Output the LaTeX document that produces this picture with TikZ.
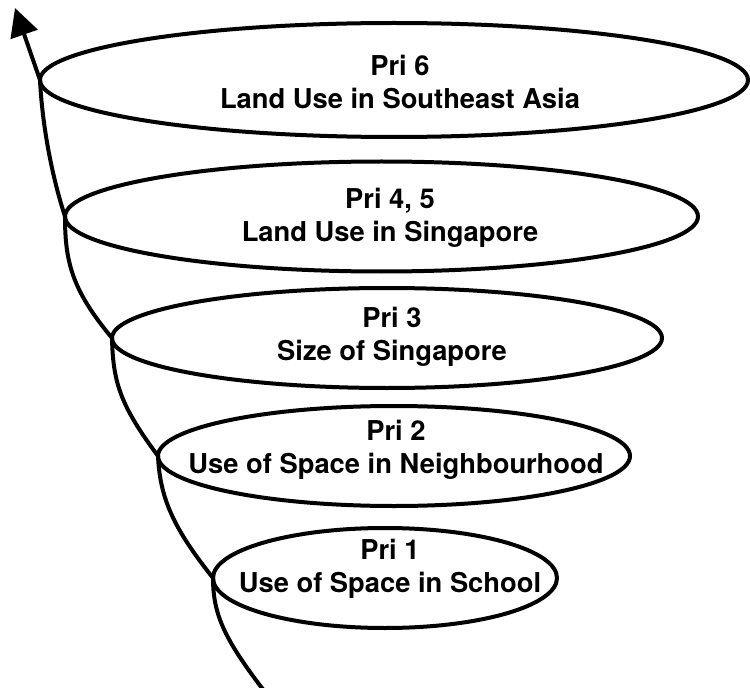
\documentclass[tikz,border=0pt]{standalone}
\usepackage{fontspec}
\setmainfont{TeX Gyre Heros}
\usetikzlibrary{arrows.meta,shapes.geometric}
\begin{document}
\begin{tikzpicture}[x=0.75pt,y=-0.75pt,
  ell/.style={draw, line width=3pt, ellipse, inner sep=0pt, outer sep=0pt},
  lbl/.style={align=center, font=\fontsize{20.5}{24.75}\selectfont\bfseries, inner sep=0pt},
  spiral/.style={line width=3pt, line join=round, -{Triangle[length=21pt,width=21pt]}}]
\useasboundingbox (0,0) rectangle (750,688);
\node[ell, minimum width=531pt, minimum height=85.5pt] (e6) at (394,80) {};
\node[ell, minimum width=474.75pt, minimum height=82.5pt] (e45) at (381.5,216.5) {};
\node[ell, minimum width=412.5pt, minimum height=75pt] (e3) at (387,338) {};
\node[ell, minimum width=354pt, minimum height=75pt] (e2) at (394,456) {};
\node[ell, minimum width=258pt, minimum height=75pt] (e1) at (385,578) {};
\node[lbl] (t6) at (400,82) {Pri 6\\Land Use in Southeast Asia};
\node[lbl] (t45) at (390,218) {Pri 4, 5\\Land Use in Singapore};
\node[lbl] (t3) at (392,337) {Pri 3\\Size of Singapore};
\node[lbl] (t2) at (396,450) {Pri 2\\Use of Space in Neighbourhood};
\node[lbl] (t1) at (390,569) {Pri 1\\Use of Space in School};
\coordinate (s) at (265,692);
\coordinate (top) at (15,8);
\draw[spiral] (s) .. controls (225,640) and (213,615) .. (e1.west)
  .. controls (175,530) and (160,500) .. (e2.west)
  .. controls (120,405) and (113,382) .. (e3.west)
  .. controls (72,290) and (65,262) .. (e45.west)
  .. controls (50,170) and (42,120) .. (e6.west)
  -- (top);
\end{tikzpicture}
\end{document}
